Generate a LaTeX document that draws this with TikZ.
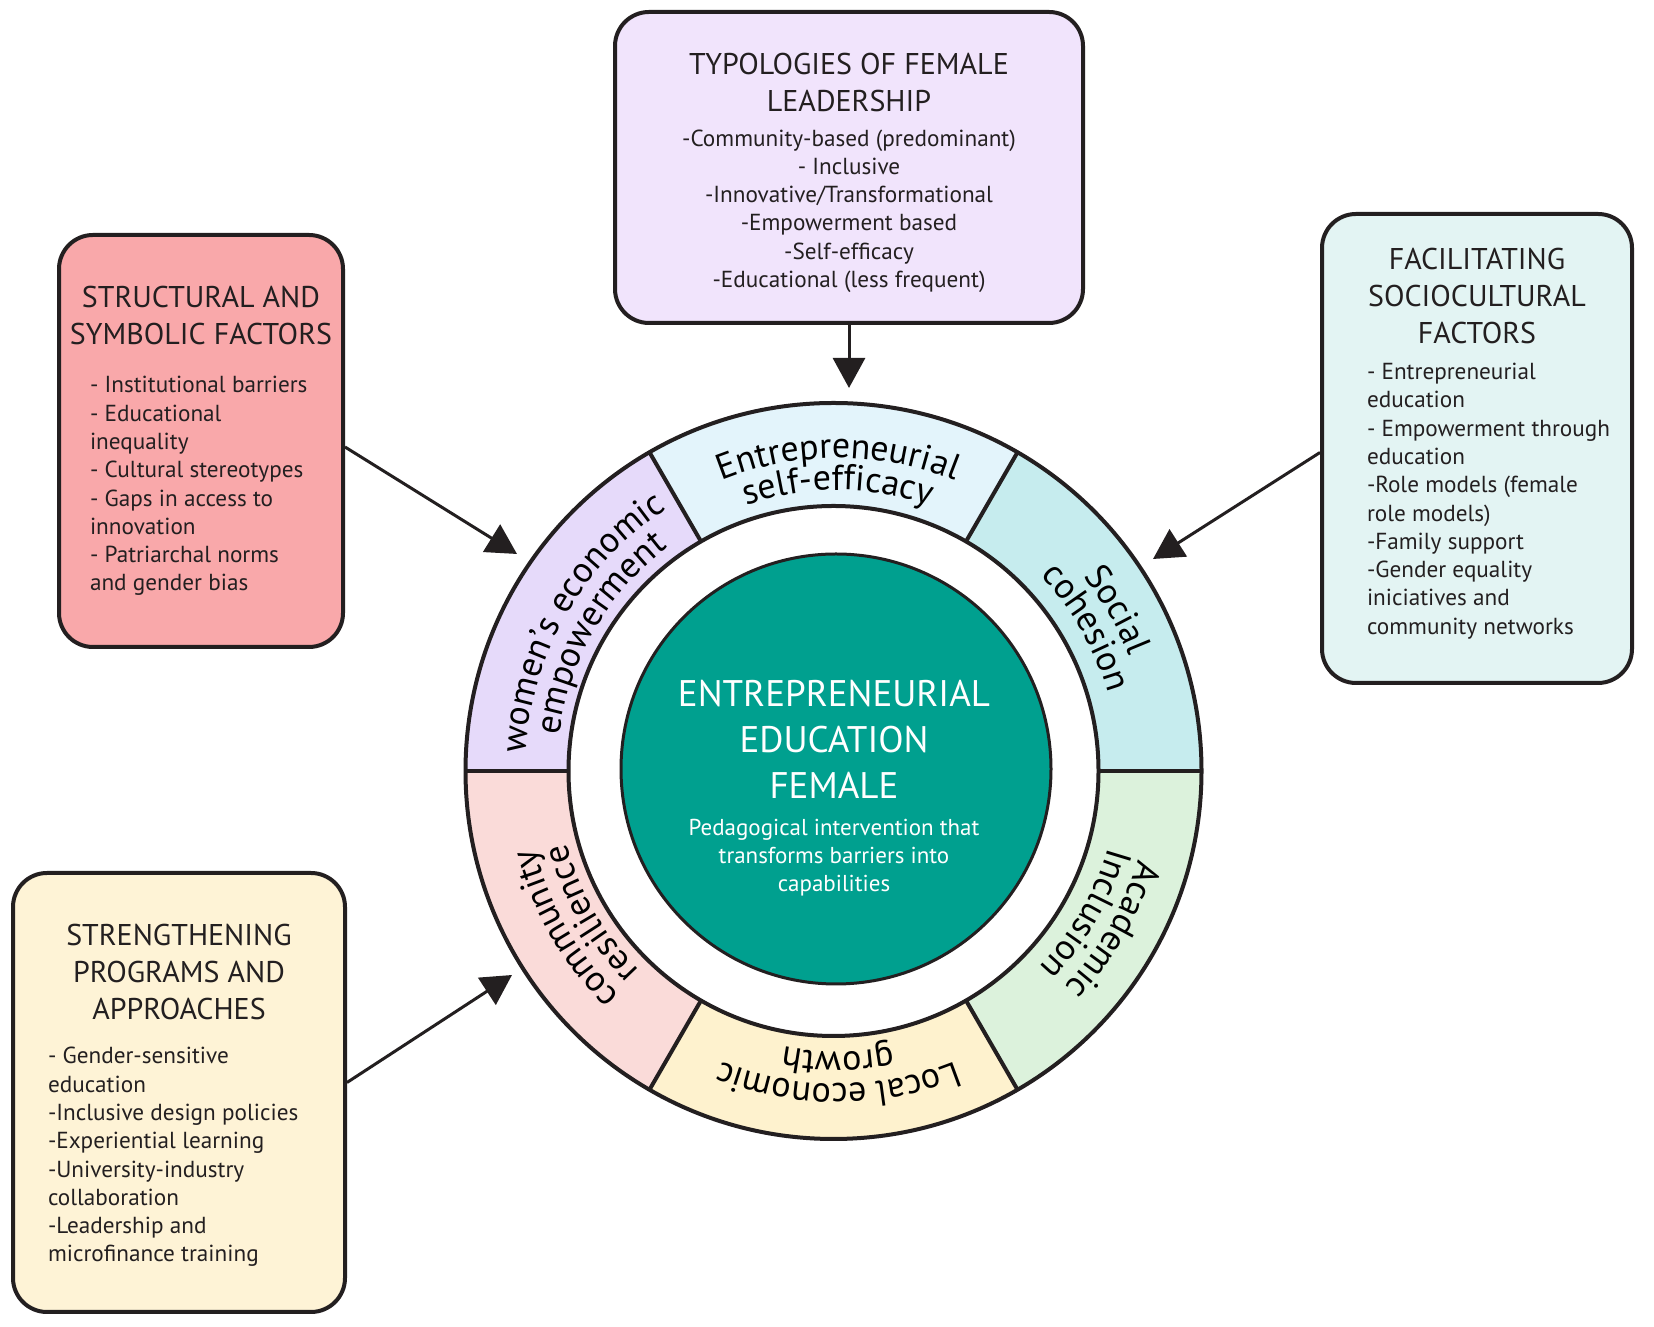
\documentclass[tikz,border=0pt]{standalone}
\usepackage{fontspec}
\setmainfont{PT Sans}
\usetikzlibrary{arrows.meta,positioning,calc,decorations.text}

\definecolor{ink}{RGB}{35,31,32}
\definecolor{leadfill}{RGB}{241,228,252}
\definecolor{barrierfill}{RGB}{249,168,170}
\definecolor{facilfill}{RGB}{227,244,243}
\definecolor{programfill}{RGB}{254,243,214}
\definecolor{segcyan}{RGB}{198,236,238}
\definecolor{segblue}{RGB}{227,244,251}
\definecolor{seglav}{RGB}{230,218,250}
\definecolor{segpink}{RGB}{250,219,217}
\definecolor{segyel}{RGB}{254,242,206}
\definecolor{seggreen}{RGB}{220,242,220}
\definecolor{coreteal}{RGB}{0,160,143}

\newcommand{\titlefont}{\fontsize{30}{37}\selectfont\spaceskip=0.27em\relax}
\newcommand{\bodyfont}{\fontsize{23.2}{28.3}\selectfont\spaceskip=0.27em\relax}
\newcommand{\ringfont}{\fontsize{36}{36}\selectfont}
\hfuzz=80pt

% curved label on the ring: start angle, end angle, radius, text
\newcommand{\ringlabel}[4]{%
  \path[decorate, decoration={text along path, text={|\ringfont|#4}, text align=center}]
    ($(ctrtext)+(#1:#3pt)$) arc[start angle=#1, end angle=#2, radius=#3pt];}

\tikzset{
  box/.style={draw=ink, line width=4pt, rounded corners=34pt, inner xsep=0pt,
    inner ysep=0pt, align=left, text=ink},
  flow/.style={draw=ink, line width=3pt, -{Triangle[length=30pt,width=32pt]}},
  core/.style={circle, draw=ink, line width=3pt, fill=coreteal, minimum size=430pt},
  coretext/.style={text=white, align=center}
}

\begin{document}
\begin{tikzpicture}[x=1pt, y=1pt]
    \useasboundingbox (0,0) rectangle (1654,1327);
    \coordinate (ctr) at (833.5,556);
    \coordinate (ctrtext) at (838,556);

    % outer boxes
    \node[box, fill=leadfill, text width=468pt, minimum height=311pt]
      (lead) at (849,1159.5) {{\centering\titlefont TYPOLOGIES OF FEMALE\\LEADERSHIP\par}\vspace{6pt}
      {\centering\bodyfont -Community-based (predominant)\\- Inclusive\\-Innovative/Transformational\\
      -Empowerment based\\-Self-efficacy\\-Educational (less frequent)\par}\vspace*{-11pt}};
    \node[box, fill=barrierfill, text width=284pt, minimum height=412pt]
      (barrier) at (201,886) {{\centering\titlefont STRUCTURAL AND\\SYMBOLIC FACTORS\par}\vspace{20pt}
      {\bodyfont\leftskip=31pt - Institutional barriers\\- Educational\\inequality\\- Cultural stereotypes\\
      - Gaps in access to\\innovation\\- Patriarchal norms\\and gender bias\par}};
    \node[box, fill=facilfill, text width=310pt, minimum height=469pt]
      (facil) at (1477,878.5) {{\centering\titlefont FACILITATING\\SOCIOCULTURAL\\FACTORS\par}\vspace{8pt}
      {\bodyfont\leftskip=45pt - Entrepreneurial\\education\\- Empowerment through\\education\\
      -Role models (female\\role models)\\-Family support\\-Gender equality\\iniciatives and\\
      community networks\par}\vspace*{10pt}};
    \node[box, fill=programfill, text width=332pt, minimum height=439pt]
      (program) at (179,234.5) {{\centering\titlefont STRENGTHENING\\PROGRAMS AND\\APPROACHES\par}\vspace{16pt}
      {\bodyfont\leftskip=35pt - Gender-sensitive\\education\\-Inclusive design policies\\
      -Experiential learning\\-University-industry\\collaboration\\-Leadership and\\
      microfinance training\par}\vspace*{-6pt}};

    % ring segments
    \foreach \a/\col in {0/segcyan, 60/segblue, 120/seglav, 180/segpink, 240/segyel, 300/seggreen}
      \fill[\col] ($(ctr)+(\a:368pt)$) arc[start angle=\a, end angle=\a+60, radius=368pt]
        -- ($(ctr)+({\a+60}:265pt)$) arc[start angle=\a+60, end angle=\a, radius=265pt] -- cycle;
    \draw[ink, line width=4pt] (ctr) circle[radius=368pt] (ctr) circle[radius=265pt];
    \foreach \a in {0,60,...,300}
      \draw[ink, line width=4pt] ($(ctr)+(\a:265pt)$) -- ($(ctr)+(\a:368pt)$);

    % ring labels
    \ringlabel{120}{60}{313}{Entrepreneurial}
    \ringlabel{120}{60}{281}{self-efficacy}
    \ringlabel{60}{0}{313}{Social}
    \ringlabel{60}{0}{281}{cohesion}
    \ringlabel{0}{-60}{313}{Academic}
    \ringlabel{0}{-60}{281}{Inclusion}
    \ringlabel{-60}{-120}{313}{Local economic}
    \ringlabel{-60}{-120}{281}{growth}
    \ringlabel{-120}{-180}{313}{community}
    \ringlabel{-120}{-180}{281}{resilience}
    \ringlabel{180}{120}{313}{women's economic}
    \ringlabel{180}{120}{281}{empowerment}

    % centre
    \node[core] (core) at (836,558) {};
    \node[coretext, font=\fontsize{37}{46}\selectfont] (coretitle) at (834,588)
      {ENTREPRENEURIAL\\EDUCATION\\FEMALE};
    \node[coretext, font=\fontsize{23}{28}\selectfont] (coresub) at (834,469)
      {Pedagogical intervention that\\transforms barriers into\\capabilities};

    % arrows into the ring
    \coordinate (tipT) at (849,939);
    \coordinate (tipL) at (517,773);
    \coordinate (tipR) at (1153,768);
    \coordinate (tipB) at (512,352);
    \draw[flow] (lead.south) -- (tipT);
    \draw[flow] ([yshift=-6pt]barrier.east) -- (tipL);
    \draw[flow] ([yshift=-4pt]facil.west) -- (tipR);
    \draw[flow] ([yshift=10pt]program.east) -- (tipB);
\end{tikzpicture}
\end{document}
